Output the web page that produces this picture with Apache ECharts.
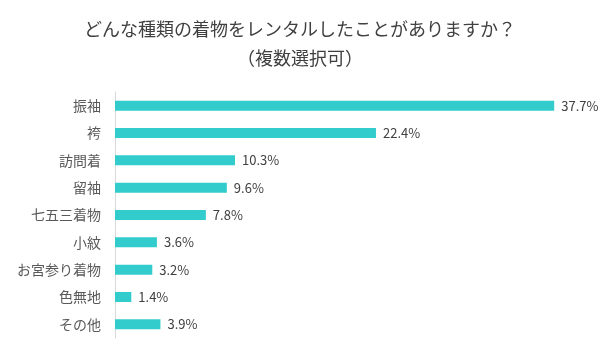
<!DOCTYPE html>
<html><head><meta charset="utf-8">
<script src="https://cdn.jsdelivr.net/npm/echarts@6/dist/echarts.min.js"></script>
<style>html,body{margin:0;padding:0;background:#fff}#c{width:600px;height:359px}</style>
</head><body><div id="c"></div>
<script>
const categories = ['振袖','袴','訪問着','留袖','七五三着物','小紋','お宮参り着物','色無地','その他'];
const values = [37.7, 22.4, 10.3, 9.6, 7.8, 3.6, 3.2, 1.4, 3.9];
const titleLines = ['どんな種類の着物をレンタルしたことがありますか？','（複数選択可）'];

const font = '"Noto Sans CJK JP", "Noto Sans", sans-serif';
const chart = echarts.init(document.getElementById('c'), null, {renderer:'canvas'});
chart.setOption({
  animation:false,
  title:{text:titleLines.join('\n'), left:'center', top:10,
    textStyle:{fontFamily:font, fontSize:18, fontWeight:'normal', color:'#404040', lineHeight:29}},
  grid:{left:115, top:92, width:466, height:246, containLabel:false},
  xAxis:{type:'value', min:0, max:40, show:false},
  yAxis:{type:'category', data:categories, inverse:true,
    axisLine:{show:true, lineStyle:{color:'#d9d9d9', width:1}},
    axisTick:{show:false},
    axisLabel:{fontFamily:font, fontSize:14, color:'#595959', margin:14}},
  series:[{type:'bar', data:values, barWidth:10,
    itemStyle:{color:'#33CCCC'},
    label:{show:true, position:'right', distance:7, formatter:p=>p.value.toFixed(1)+'%',
      fontFamily:font, fontSize:13, color:'#404040'}}]
});
</script></body></html>
